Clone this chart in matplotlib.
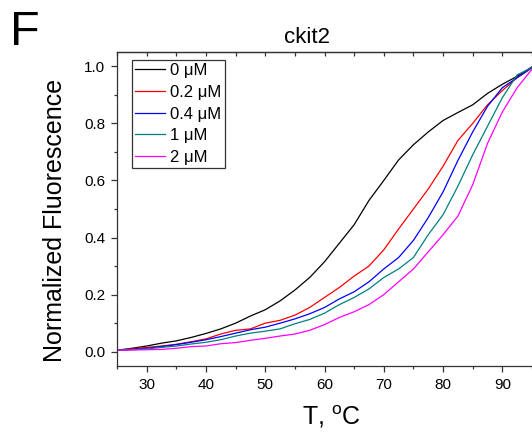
import numpy as np
import matplotlib
matplotlib.use("Agg")
import matplotlib.pyplot as plt
from matplotlib.ticker import MultipleLocator

plt.rcParams["font.family"] = ["Liberation Sans", "DejaVu Sans"]
plt.rcParams["mathtext.fontset"] = "custom"
plt.rcParams["mathtext.rm"] = "Liberation Sans"

# temperature grid (°C) and normalized fluorescence
temp = [25, 27.5, 30, 32.5, 35, 37.5, 40, 42.5, 45, 47.5, 50, 52.5, 55, 57.5, 60,
        62.5, 65, 67.5, 70, 72.5, 75, 77.5, 80, 82.5, 85, 87.5, 90, 92.5, 95]

f_0uM = [0.005, 0.012, 0.020, 0.030, 0.038, 0.050, 0.064, 0.080, 0.100, 0.125,
         0.147, 0.178, 0.216, 0.260, 0.315, 0.380, 0.445, 0.530, 0.600, 0.672,
         0.725, 0.770, 0.810, 0.838, 0.865, 0.905, 0.937, 0.965, 0.998]
f_02uM = [0.005, 0.010, 0.015, 0.020, 0.026, 0.035, 0.045, 0.062, 0.075, 0.080,
          0.100, 0.110, 0.128, 0.155, 0.190, 0.225, 0.265, 0.300, 0.357, 0.430,
          0.500, 0.570, 0.650, 0.740, 0.800, 0.865, 0.915, 0.960, 0.995]
f_04uM = [0.005, 0.008, 0.012, 0.018, 0.025, 0.033, 0.042, 0.053, 0.065, 0.077,
          0.086, 0.100, 0.115, 0.133, 0.155, 0.185, 0.210, 0.245, 0.290, 0.330,
          0.390, 0.470, 0.560, 0.670, 0.770, 0.860, 0.925, 0.960, 0.995]
f_1uM = [0.005, 0.007, 0.010, 0.015, 0.020, 0.027, 0.033, 0.042, 0.055, 0.065,
         0.072, 0.080, 0.098, 0.113, 0.135, 0.165, 0.190, 0.220, 0.260, 0.290,
         0.330, 0.410, 0.480, 0.580, 0.690, 0.790, 0.890, 0.970, 0.995]
f_2uM = [0.005, 0.006, 0.007, 0.008, 0.012, 0.018, 0.020, 0.028, 0.032, 0.040,
         0.047, 0.055, 0.062, 0.075, 0.095, 0.120, 0.140, 0.165, 0.200, 0.245,
         0.290, 0.350, 0.410, 0.475, 0.585, 0.730, 0.840, 0.925, 0.990]

labels = ["0 \u03bcM", "0.2 \u03bcM", "0.4 \u03bcM", "1 \u03bcM", "2 \u03bcM"]
colors = ["#000000", "#ff0000", "#0000ff", "#008080", "#ff00ff"]

fig = plt.figure(figsize=(5.32, 4.33), dpi=100)
ax = fig.add_axes([117 / 532, 1 - 366 / 433, 415 / 532, 314 / 433])

for y, lab, c in zip([f_0uM, f_02uM, f_04uM, f_1uM, f_2uM], labels, colors):
    ax.plot(temp, y, color=c, lw=0.9, label=lab)

ax.set_xlim(25, 95)
ax.set_ylim(-0.05, 1.05)
ax.xaxis.set_major_locator(MultipleLocator(10))
ax.xaxis.set_minor_locator(MultipleLocator(5))
ax.yaxis.set_major_locator(MultipleLocator(0.2))
ax.yaxis.set_minor_locator(MultipleLocator(0.1))
ax.set_xticks([30, 40, 50, 60, 70, 80, 90])
ax.yaxis.set_major_formatter(matplotlib.ticker.FormatStrFormatter("%.1f"))

for s in ["left", "bottom", "top"]:
    ax.spines[s].set_linewidth(0.9)
    ax.spines[s].set_color("#333333")
ax.spines["right"].set_visible(False)

ax.tick_params(which="major", direction="out", length=4, width=0.9,
               labelsize=11, pad=4.5, color="#333333")
ax.tick_params(which="minor", direction="out", length=2.5, width=0.9,
               color="#333333")

top = ax.secondary_xaxis("top")
top.xaxis.set_major_locator(MultipleLocator(5))
top.tick_params(direction="in", length=3, width=0.9, labeltop=False,
                color="#333333")
top.spines["top"].set_linewidth(0.9)
top.spines["top"].set_color("#333333")

ax.set_xlabel(r"T, $^{\mathregular{o}}$C", fontsize=18)
ax.xaxis.set_label_coords(0.516, -0.185)
ax.xaxis.label.set_va("baseline")
ax.set_ylabel("Normalized Fluorescence", fontsize=18)
ax.yaxis.set_label_coords(-0.12, 0.462)

ax.text(0.458, 1.029, "ckit2", transform=ax.transAxes, ha="center",
        va="baseline", fontsize=16)
fig.text(10 / 532, 1 - 45 / 433, "F", fontsize=35, va="baseline", ha="left")

leg = ax.legend(loc="upper left", bbox_to_anchor=(0.036, 0.975), fontsize=12,
                frameon=True, fancybox=False, edgecolor="black",
                handlelength=1.8, handletextpad=0.3, labelspacing=0.4,
                borderpad=0.2, borderaxespad=0)
leg.get_frame().set_linewidth(0.9)

fig.savefig("out.png", dpi=100)
